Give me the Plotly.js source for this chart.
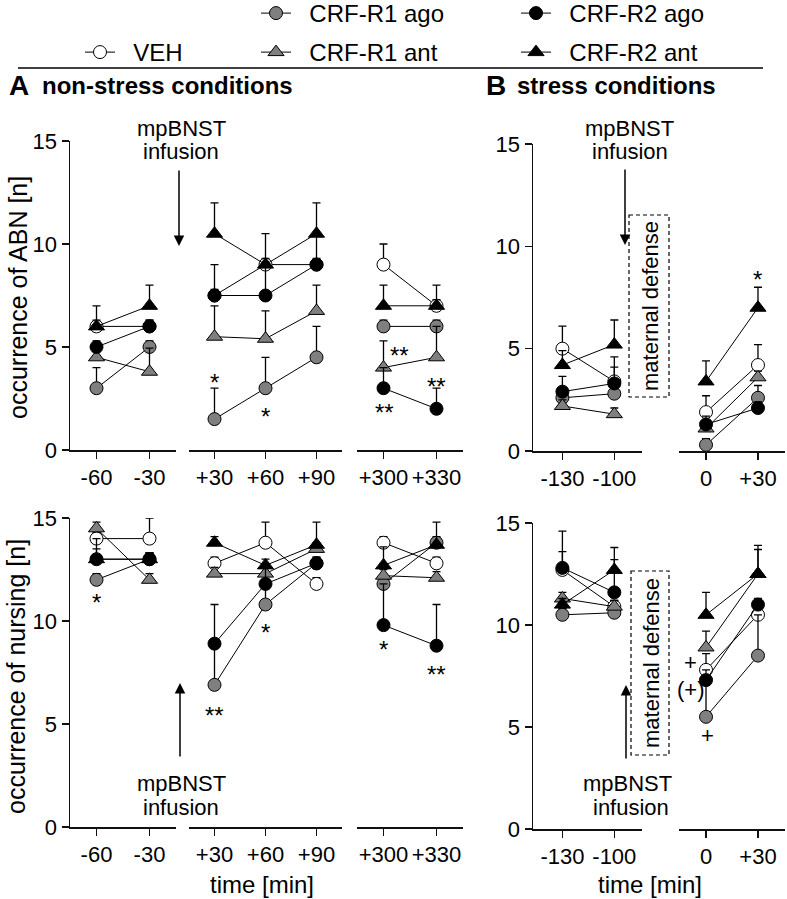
<!DOCTYPE html>
<html><head><meta charset="utf-8">
<script src="https://cdn.plot.ly/plotly-3.0.1.min.js"></script>
<style>html,body{margin:0;padding:0;background:#fff}</style>
</head><body><div id="chart" style="width:787px;height:899px"></div>
<script>
// ---------- data ----------
const timesNS = [-60, -30, 30, 60, 90, 300, 330];
const labelsNS = ['-60', '-30', '+30', '+60', '+90', '+300', '+330'];
const timesS = [-130, -100, 0, 30];
const labelsS = ['-130', '-100', '0', '+30'];
const groupNames = ['VEH', 'CRF-R1 ago', 'CRF-R1 ant', 'CRF-R2 ago', 'CRF-R2 ant'];

// occurrence of ABN, non-stress (mean, upper SEM)
const abnNS_VEH = [6, 6, 7.5, 9, 9, 9, 7];
const abnNS_VEH_sem = [0.3, 0.3, 0.3, 0.3, 0.3, 1.0, 0.3];
const abnNS_R1ago = [3, 5, 1.5, 3, 4.5, 6, 6];
const abnNS_R1ago_sem = [1.0, 0.3, 1.5, 1.5, 1.5, 0.3, 0.3];
const abnNS_R1ant = [4.5, 3.8, 5.5, 5.4, 6.75, 4.0, 4.5];
const abnNS_R1ant_sem = [0.3, 1.15, 1.5, 1.35, 1.25, 1.3, 1.5];
const abnNS_R2ago = [5, 6, 7.5, 7.5, 9, 3, 2];
const abnNS_R2ago_sem = [0.3, 0.3, 1.5, 1.5, 1.5, 1.0, 1.0];
const abnNS_R2ant = [6, 7, 10.5, 9, 10.5, 7, 7];
const abnNS_R2ant_sem = [1.0, 1.0, 1.5, 1.5, 1.5, 1.0, 1.0];

// occurrence of ABN, stress
const abnS_VEH = [5.0, 3.4, 1.9, 4.2];
const abnS_VEH_sem = [1.1, 1.2, 0.8, 1.0];
const abnS_R1ago = [2.6, 2.8, 0.3, 2.6];
const abnS_R1ago_sem = [0.3, 0.3, 0.3, 0.6];
const abnS_R1ant = [2.2, 1.8, 1.1, 3.6];
const abnS_R1ant_sem = [0.3, 0.3, 0.3, 0.3];
const abnS_R2ago = [2.9, 3.3, 1.3, 2.1];
const abnS_R2ago_sem = [0.75, 0.8, 0.4, 0.3];
const abnS_R2ant = [4.2, 5.2, 3.4, 7.0];
const abnS_R2ant_sem = [0.7, 1.2, 1.0, 1.0];

// occurrence of nursing, non-stress
const nurNS_VEH = [14.0, 14.0, 12.8, 13.8, 11.8, 13.8, 12.8];
const nurNS_VEH_sem = [0.3, 1.0, 0.3, 1.0, 0.3, 0.3, 0.3];
const nurNS_R1ago = [12.0, 13.0, 6.9, 10.8, 12.8, 11.8, 13.8];
const nurNS_R1ago_sem = [0.3, 0.3, 2.0, 1.0, 0.3, 0.3, 0.3];
const nurNS_R1ant = [14.5, 12.0, 12.3, 12.3, 13.5, 12.2, 12.1];
const nurNS_R1ant_sem = [0.3, 0.3, 0.3, 0.3, 0.3, 0.3, 0.3];
const nurNS_R2ago = [13.0, 13.0, 8.9, 11.8, 12.8, 9.8, 8.8];
const nurNS_R2ago_sem = [1.0, 0.3, 1.9, 0.8, 0.3, 2.0, 2.0];
const nurNS_R2ant = [13.0, 13.0, 13.8, 12.7, 13.7, 12.7, 13.7];
const nurNS_R2ant_sem = [0.5, 0.3, 0.3, 0.3, 1.1, 0.9, 1.1];

// occurrence of nursing, stress
const nurS_VEH = [12.7, 10.9, 7.8, 10.5];
const nurS_VEH_sem = [1.9, 0.3, 0.8, 0.3];
const nurS_R1ago = [10.5, 10.6, 5.5, 8.5];
const nurS_R1ago_sem = [0.3, 0.3, 1.8, 2.0];
const nurS_R1ant = [11.3, 10.9, 8.9, 12.5];
const nurS_R1ant_sem = [0.3, 0.3, 0.8, 1.2];
const nurS_R2ago = [12.8, 11.6, 7.3, 11.0];
const nurS_R2ago_sem = [0.8, 1.6, 0.5, 0.3];
const nurS_R2ant = [11.0, 12.7, 10.5, 12.5];
const nurS_R2ant_sem = [0.3, 1.1, 1.1, 1.4];

// ---------- layout helpers ----------
const W = 787, H = 899;
const px = v => v / W;
const py = v => 1 - v / H;
const F = 'Liberation Sans, Arial, Helvetica, sans-serif';
const INK = '#111111';
const GRAY = '#7f7f7f';

const styles = [
  {symbol: 'circle', fill: '#ffffff', legend: 'legend'},
  {symbol: 'circle', fill: GRAY, legend: 'legend2'},
  {symbol: 'triangle-up', fill: GRAY, legend: 'legend3'},
  {symbol: 'circle', fill: '#000000', legend: 'legend4'},
  {symbol: 'triangle-up', fill: '#000000', legend: 'legend5'}
];

const panels = [
  {times: timesNS, series: [[abnNS_VEH, abnNS_VEH_sem], [abnNS_R1ago, abnNS_R1ago_sem], [abnNS_R1ant, abnNS_R1ant_sem], [abnNS_R2ago, abnNS_R2ago_sem], [abnNS_R2ant, abnNS_R2ant_sem]],
   segs: [[0, 2, 'x', 'y'], [2, 5, 'x2', 'y'], [5, 7, 'x3', 'y']]},
  {times: timesS, series: [[abnS_VEH, abnS_VEH_sem], [abnS_R1ago, abnS_R1ago_sem], [abnS_R1ant, abnS_R1ant_sem], [abnS_R2ago, abnS_R2ago_sem], [abnS_R2ant, abnS_R2ant_sem]],
   segs: [[0, 2, 'x4', 'y2'], [2, 4, 'x5', 'y2']]},
  {times: timesNS, series: [[nurNS_VEH, nurNS_VEH_sem], [nurNS_R1ago, nurNS_R1ago_sem], [nurNS_R1ant, nurNS_R1ant_sem], [nurNS_R2ago, nurNS_R2ago_sem], [nurNS_R2ant, nurNS_R2ant_sem]],
   segs: [[0, 2, 'x6', 'y3'], [2, 5, 'x7', 'y3'], [5, 7, 'x8', 'y3']]},
  {times: timesS, series: [[nurS_VEH, nurS_VEH_sem], [nurS_R1ago, nurS_R1ago_sem], [nurS_R1ant, nurS_R1ant_sem], [nurS_R2ago, nurS_R2ago_sem], [nurS_R2ant, nurS_R2ant_sem]],
   segs: [[0, 2, 'x9', 'y4'], [2, 4, 'x10', 'y4']]}
];

const traces = [];
panels.forEach((p, pi) => {
  p.series.forEach((s, si) => {
    const st = styles[si];
    p.segs.forEach((sg, gi) => {
      const [a, b, xa, ya] = sg;
      const yv = s[0].slice(a, b);
      traces.push({
        type: 'scatter', mode: 'lines+markers',
        x: p.times.slice(a, b), y: yv,
        xaxis: xa, yaxis: ya,
        name: '\u00a0\u00a0' + groupNames[si],
        legend: st.legend,
        showlegend: pi === 0 && gi === 0,
        cliponaxis: false,
        line: {color: '#000', width: 1},
        marker: {symbol: st.symbol, size: st.symbol === 'circle' ? 13 : 14, color: st.fill, line: {color: '#000', width: 1}},
        error_y: {type: 'data', symmetric: false, array: s[1].slice(a, b), arrayminus: yv.map(() => 0),
                  width: 4, thickness: 1.3, color: '#000'},
        hoverinfo: 'skip'
      });
    });
  });
});

function xax(d0, d1, range, vals, texts, anchor) {
  return {domain: [px(d0), px(d1)], range: range, anchor: anchor,
    tickmode: 'array', tickvals: vals, ticktext: texts,
    showline: true, linecolor: INK, linewidth: 1.5, mirror: false,
    ticks: 'outside', ticklen: 7, tickwidth: 1.5, tickcolor: INK,
    showgrid: false, zeroline: false, fixedrange: true,
    tickfont: {family: F, size: 22, color: '#000'}};
}
function yax(top, bottom, anchor) {
  return {domain: [py(bottom), py(top)], range: [0, 15], anchor: anchor,
    tickmode: 'array', tickvals: [0, 5, 10, 15],
    showline: true, linecolor: INK, linewidth: 1.5,
    ticks: 'outside', ticklen: 7, tickwidth: 1.5, tickcolor: INK,
    showgrid: false, zeroline: false, fixedrange: true,
    tickfont: {family: F, size: 22, color: '#000'}};
}

const layout = {
  width: W, height: H,
  margin: {l: 0, r: 0, t: 0, b: 0, autoexpand: false},
  paper_bgcolor: '#fff', plot_bgcolor: 'rgba(0,0,0,0)',
  font: {family: F, color: '#000'},
  xaxis: xax(70, 176, [-75, -15], timesNS.slice(0, 2), labelsNS.slice(0, 2), 'y'),
  xaxis2: xax(189, 342, [15, 105], timesNS.slice(2, 5), labelsNS.slice(2, 5), 'y'),
  xaxis3: xax(357, 463, [285, 345], timesNS.slice(5, 7), labelsNS.slice(5, 7), 'y'),
  xaxis4: xax(533, 642, [-147, -84], timesS.slice(0, 2), labelsS.slice(0, 2), 'y2'),
  xaxis5: xax(679, 785, [-15.6, 45.6], timesS.slice(2, 4), labelsS.slice(2, 4), 'y2'),
  xaxis6: xax(70, 176, [-75, -15], timesNS.slice(0, 2), labelsNS.slice(0, 2), 'y3'),
  xaxis7: xax(189, 342, [15, 105], timesNS.slice(2, 5), labelsNS.slice(2, 5), 'y3'),
  xaxis8: xax(357, 463, [285, 345], timesNS.slice(5, 7), labelsNS.slice(5, 7), 'y3'),
  xaxis9: xax(533, 642, [-147, -84], timesS.slice(0, 2), labelsS.slice(0, 2), 'y4'),
  xaxis10: xax(679, 785, [-15.6, 45.6], timesS.slice(2, 4), labelsS.slice(2, 4), 'y4'),
  yaxis: yax(141, 450, 'x'),
  yaxis2: yax(144, 451, 'x4'),
  yaxis3: yax(518, 827, 'x6'),
  yaxis4: yax(523, 829, 'x9'),
  showlegend: true
};

// legends (one entry each): target marker centre [x, y] in pixels
const legPos = [[97, 52], [273, 13], [273, 52], [533, 13], [533, 52]];
['legend', 'legend2', 'legend3', 'legend4', 'legend5'].forEach((k, i) => {
  layout[k] = {x: px(legPos[i][0] - 17), y: py(legPos[i][1] - 22), xanchor: 'left', yanchor: 'top',
    bgcolor: 'rgba(0,0,0,0)', borderwidth: 0, font: {family: F, size: 24, color: '#000'},
    itemclick: false, itemdoubleclick: false};
});

const ann = [];
function txt(t, x, y, size, opts) {
  ann.push(Object.assign({text: t, x: px(x), y: py(y), xref: 'paper', yref: 'paper', showarrow: false,
    font: {family: F, size: size, color: '#000'}, xanchor: 'center', yanchor: 'middle'}, opts || {}));
}
// panel titles
txt('<b>A</b>', 19, 86, 28);
txt('<b>non-stress conditions</b>', 40, 86, 24, {xanchor: 'left'});
txt('<b>B</b>', 496, 86, 28);
txt('<b>stress conditions</b>', 515, 86, 24, {xanchor: 'left'});
// axis titles
txt('occurrence of ABN [n]', 18, 298, 25, {textangle: -90});
txt('occurrence of nursing [n]', 16, 677, 25, {textangle: -90});
txt('time [min]', 262, 884, 24);
txt('time [min]', 650, 884, 24);
// infusion labels
txt('mpBNST', 181, 128, 22); txt('infusion', 181, 152, 22);
txt('mpBNST', 629, 128, 22); txt('infusion', 630, 152, 22);
txt('mpBNST', 181, 783, 22); txt('infusion', 181, 807, 22);
txt('mpBNST', 627, 783, 22); txt('infusion', 631, 807, 22);
// maternal defense boxes
txt('maternal defense', 650, 306, 22, {textangle: -90});
txt('maternal defense', 651, 663, 22, {textangle: -90});
// arrows
function arrow(x, yTip, yTail) {
  ann.push({x: px(x), y: py(yTip), xref: 'paper', yref: 'paper', ax: 0, ay: yTail - yTip,
    showarrow: true, arrowhead: 2, arrowsize: 1.4, arrowwidth: 1.5, arrowcolor: '#000', text: '', standoff: 0});
}
arrow(179, 246, 169);
arrow(625, 245, 168);
arrow(180, 683, 758);
arrow(626, 685, 760);
// significance marks (data coordinates)
function mark(t, xr, yr, x, y, size) {
  ann.push({text: t, xref: xr, yref: yr, x: x, y: y, showarrow: false,
    font: {family: F, size: size || 24, color: '#000'}, xanchor: 'center', yanchor: 'middle'});
}
mark('*', 'x2', 'y', 30, 3.3);
mark('*', 'x2', 'y', 60, 1.65);
mark('**', 'x3', 'y', 309, 4.6);
mark('**', 'x3', 'y', 300.5, 1.8);
mark('**', 'x3', 'y', 330, 3.1);
mark('*', 'x5', 'y2', 30, 8.4);
mark('*', 'x6', 'y3', -60, 10.9);
mark('**', 'x7', 'y3', 30, 5.4);
mark('*', 'x7', 'y3', 60, 9.45);
mark('*', 'x8', 'y3', 300, 8.6);
mark('**', 'x8', 'y3', 330, 7.4);
mark('+', 'x10', 'y4', -8.7, 8.16, 22);
mark('(+)', 'x10', 'y4', -8.7, 6.82, 22);
mark('+', 'x10', 'y4', 1, 4.58, 22);
layout.annotations = ann;

layout.shapes = [
  {type: 'line', xref: 'paper', yref: 'paper', x0: px(18), x1: px(763), y0: py(68), y1: py(68), line: {color: '#000', width: 1.5}},
  {type: 'rect', xref: 'paper', yref: 'paper', x0: px(629), x1: px(669), y0: py(215), y1: py(397), line: {color: '#000', width: 1.2, dash: '4px,3px'}},
  {type: 'rect', xref: 'paper', yref: 'paper', x0: px(631), x1: px(669), y0: py(571), y1: py(755), line: {color: '#000', width: 1.2, dash: '4px,3px'}}
];

Plotly.newPlot('chart', traces, layout, {staticPlot: true, displayModeBar: false});
</script>
</body></html>
